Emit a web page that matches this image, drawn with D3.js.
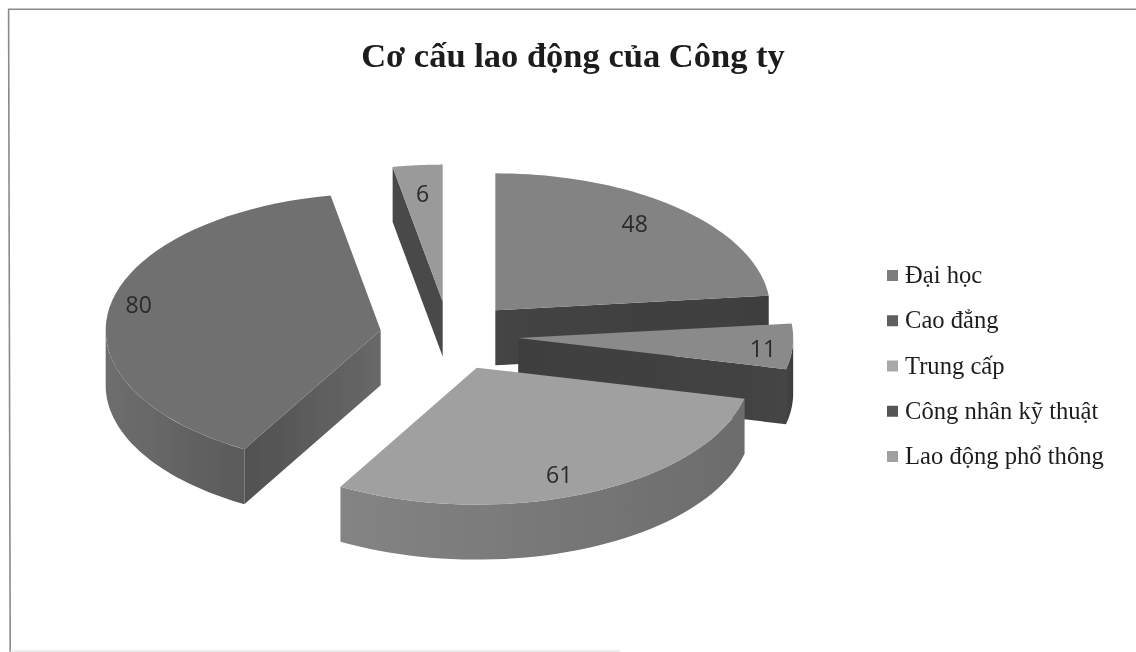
<!DOCTYPE html>
<html lang="vi">
<head>
  <meta charset="UTF-8">
  <title>Cơ cấu lao động của Công ty</title>
  <style>
    body { margin: 0; background: #fff; }
    svg { display: block; }
    .title { font-family: 'Liberation Serif', serif; font-weight: bold; font-size: 34.5px; fill: #1c1c1c; }
    .legend { font-family: 'Liberation Serif', serif; font-size: 24.6px; fill: #1e1e1e; }
    .value { font-family: 'Open Sans', sans-serif; font-size: 23px; fill: #2a2a2a; }
  </style>
</head>
<body>
  <svg width="1136" height="652"></svg>
  <script src="https://d3js.org/d3.v7.min.js"></script>
  <script>
    const categories = ['Đại học', 'Cao đẳng', 'Trung cấp', 'Công nhân kỹ thuật', 'Lao động phổ thông'];
    const values = [48, 11, 61, 80, 6];

    // greys per slice, same order as categories
    const topColors = ['#838383', '#8a8a8a', '#a0a0a0', '#707070', '#9a9a9a'];
    const cutColors = [['#444444', '#3e3e3e'], ['#3e3e3e', '#444444'], ['#777777', '#777777'], ['#515151', '#686868'], ['#4a4a4a', '#4a4a4a']];
    const wallColors = [['#444444', '#444444'], ['#444444', '#3c3c3c'], ['#848484', '#6c6c6c'], ['#6e6e6e', '#5a5a5a'], ['#4a4a4a', '#4a4a4a']];
    const legendColors = ['#7d7d7d', '#5e5e5e', '#a8a8a8', '#565656', '#a0a0a0'];
    // label place relative to the slice apex, in radius units
    const labelOffsets = [[0.507, -0.635], [0.89, 0.07], [0.30, 0.774], [-0.88, -0.19], [-0.073, -0.795]];

    const svg = d3.select('svg');
    const defs = svg.append('defs');
    const soft = defs.append('filter').attr('id', 'soft');
    soft.append('feGaussianBlur').attr('stdDeviation', 0.45);

    // Pie settings
    const cx = 449, cy = 336, rx = 275, ry = 137;
    const depth = 55, explode = 0.252;

    const x = d3.scaleLinear().domain([-1, 1]).range([cx - rx, cx + rx]);
    const y = d3.scaleLinear().domain([-1, 1]).range([cy - ry, cy + ry]);

    const root = svg.append('g').attr('filter', 'url(#soft)');

    // Frame, only top and left read clearly on the scan
    root.append('line').attr('x1', 8).attr('y1', 9.3).attr('x2', 1136).attr('y2', 9.3)
      .attr('stroke', '#8a8a8a').attr('stroke-width', 1.6);
    root.append('line').attr('x1', 8.6).attr('y1', 9).attr('x2', 10.2).attr('y2', 652)
      .attr('stroke', '#8a8a8a').attr('stroke-width', 1.6);
    root.append('line').attr('x1', 10).attr('y1', 651).attr('x2', 620).attr('y2', 651)
      .attr('stroke', '#dcdcdc').attr('stroke-width', 1.2);

    root.append('text')
      .attr('class', 'title')
      .attr('x', 573).attr('y', 67)
      .attr('text-anchor', 'middle')
      .text('Cơ cấu lao động của Công ty');

    const slices = d3.pie().sort(null)(values);
    const line = d3.line();

    const ringPoint = (apex, a, h) => [
      x(apex[0] + Math.sin(a)),
      y(apex[1] - Math.cos(a)) + h
    ];
    const sweep = (a0, a1) => d3.range(0, 49).map(i => a0 + (a1 - a0) * i / 48);

    // left to right gradient for a side face
    const gradient = (id, colors) => {
      const g = defs.append('linearGradient').attr('id', id);
      g.append('stop').attr('offset', 0).attr('stop-color', colors[0]);
      g.append('stop').attr('offset', 1).attr('stop-color', colors[1]);
      return `url(#${id})`;
    };

    slices.forEach(s => {
      const mid = (s.startAngle + s.endAngle) / 2;
      s.apex = [explode * Math.sin(mid), -explode * Math.cos(mid)];
    });

    // back to front so the front slices overlap the others
    const drawOrder = [4, 3, 0, 1, 2];
    drawOrder.forEach(i => {
      const s = slices[i];
      const g = root.append('g');
      const apexPt = [x(s.apex[0]), y(s.apex[1])];
      const apexLow = [apexPt[0], apexPt[1] + depth];

      // cut faces
      [s.startAngle, s.endAngle].forEach((a, k) => {
        const visible = k === 0 ? Math.sin(a) < -1e-6 : Math.sin(a) > 1e-6;
        if (!visible) return;
        g.append('path')
          .attr('d', line([apexPt, ringPoint(s.apex, a, 0), ringPoint(s.apex, a, depth), apexLow]) + 'Z')
          .attr('fill', gradient(`cut${i}${k}`, cutColors[i]));
      });

      // outer wall, only the front half shows
      const a0 = Math.max(s.startAngle, Math.PI / 2);
      const a1 = Math.min(s.endAngle, Math.PI * 1.5);
      if (a1 > a0) {
        const upper = sweep(a0, a1).map(a => ringPoint(s.apex, a, 0));
        const lower = sweep(a1, a0).map(a => ringPoint(s.apex, a, depth));
        g.append('path')
          .attr('d', line(upper.concat(lower)) + 'Z')
          .attr('fill', gradient(`wall${i}`, wallColors[i]));
      }

      // top
      const rim = sweep(s.startAngle, s.endAngle).map(a => ringPoint(s.apex, a, 0));
      g.append('path')
        .attr('d', line([apexPt].concat(rim)) + 'Z')
        .attr('fill', topColors[i]);
    });

    // Value labels
    slices.forEach((s, i) => {
      root.append('text')
        .attr('class', 'value')
        .attr('x', x(s.apex[0] + labelOffsets[i][0]))
        .attr('y', y(s.apex[1] + labelOffsets[i][1]))
        .attr('text-anchor', 'middle')
        .attr('dominant-baseline', 'central')
        .text(s.value);
    });

    // Legend
    const legendY = d3.scalePoint().domain(categories).range([275, 456]);
    const legend = root.selectAll('g.item').data(categories).enter().append('g')
      .attr('class', 'item')
      .attr('transform', d => `translate(887,${legendY(d)})`);
    legend.append('rect')
      .attr('x', 0).attr('y', -5)
      .attr('width', 11).attr('height', 11)
      .attr('fill', (d, i) => legendColors[i]);
    legend.append('text')
      .attr('class', 'legend')
      .attr('x', 18).attr('y', 8)
      .text(d => d);
  </script>
</body>
</html>
